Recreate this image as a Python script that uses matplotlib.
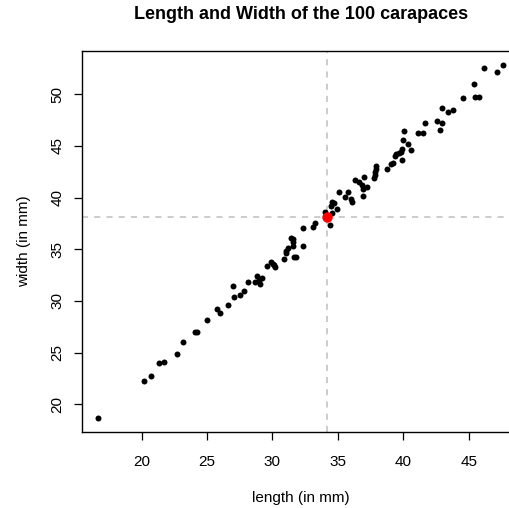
import numpy as np
import matplotlib
matplotlib.use("Agg")
import matplotlib.pyplot as plt

plt.rcParams['font.family'] = ['Liberation Sans', 'DejaVu Sans']

# carapace measurements (mm)
length = [16.71, 20.20, 20.71, 21.35, 21.70, 22.70, 23.18, 24.05, 24.20, 25.00,
          25.76, 26.00, 26.60, 27.00, 27.08, 27.49, 27.80, 28.10,
          28.70, 28.82, 28.95, 29.17, 29.04,
          29.55, 29.91, 30.08, 30.17, 30.10,
          30.90, 31.00, 31.06, 31.20, 31.39, 31.56, 31.60, 31.60, 31.62, 31.78,
          32.31, 32.31, 33.07, 33.27,
          33.98, 34.57, 34.39, 34.96, 34.50, 34.68, 34.55,
          35.11, 35.57, 35.80, 35.97, 36.10,
          36.31, 36.64, 36.82, 36.99, 36.89, 37.20, 36.89,
          37.90, 37.88, 37.85, 37.82, 37.78,
          38.78, 39.03, 39.18, 39.36, 39.44, 39.67, 39.80, 39.87, 39.87,
          40.00, 40.08, 40.38, 40.56, 41.15, 41.53, 41.68,
          42.60, 42.93, 42.78, 42.98, 43.39, 43.77, 44.56, 45.38,
          45.48, 45.76, 46.19, 47.18, 47.59]
width = [18.65, 22.23, 22.74, 24.03, 24.13, 24.84, 26.03, 27.03, 27.03, 28.13,
         29.19, 28.84, 29.61, 31.45, 30.42, 30.55, 30.94, 31.84,
         31.80, 32.42, 32.05, 32.26, 31.65,
         33.42, 33.74, 33.60, 33.32, 33.45,
         34.03, 34.61, 34.85, 35.13, 36.13, 36.00, 35.65, 35.32, 34.23, 34.23,
         35.32, 37.03, 37.19, 37.58,
         38.58, 38.48, 37.35, 38.90, 39.19, 39.45, 39.61,
         40.52, 40.03, 40.52, 39.84, 39.52,
         41.71, 41.55, 41.23, 42.03, 40.84, 41.06, 40.19,
         43.06, 42.77, 42.45, 42.20, 41.87,
         42.74, 43.23, 43.32, 43.97, 44.19, 44.29, 44.45, 44.71, 43.65,
         45.58, 46.45, 45.16, 44.55, 46.23, 46.23, 47.19,
         47.42, 47.19, 46.52, 48.71, 48.23, 48.42, 49.61, 51.00,
         49.71, 49.71, 52.52, 52.13, 52.81]

mean_length = 34.14
mean_width = 38.13

xticks = [20, 25, 30, 35, 40, 45]
yticks = [20, 25, 30, 35, 40, 45, 50]

x = np.array(length)
y = np.array(width)

fig = plt.figure(figsize=(5.10, 5.08), dpi=100)
ax = fig.add_axes([0.1614, 0.149, 0.856, 0.7506])

# R-style 4% padding around the data
xr = x.max() - x.min()
yr = y.max() - y.min()
ax.set_xlim(x.min() - 0.04 * xr, x.max() + 0.04 * xr)
ax.set_ylim(y.min() - 0.04 * yr, y.max() + 0.04 * yr)

ax.axvline(mean_length, color='#bebebe', linestyle=(0, (4, 4)), linewidth=1.1, zorder=1)
ax.axhline(mean_width, color='#bebebe', linestyle=(0, (4, 4)), linewidth=1.1, zorder=1)

ax.plot(x, y, 'o', color='black', markersize=4.3, markeredgewidth=0, zorder=2)
ax.plot([mean_length], [mean_width], 'o', color='red', markersize=7.5,
        markeredgewidth=0, zorder=3)

ax.set_xticks(xticks)
ax.set_yticks(yticks)
ax.tick_params(axis='both', direction='out', length=6, width=0.9, labelsize=11)
ax.tick_params(axis='x', pad=10)
ax.tick_params(axis='y', pad=7, labelrotation=90)
for lab in ax.get_yticklabels():
    lab.set_verticalalignment('center')

for s in ax.spines.values():
    s.set_linewidth(1.0)

ax.set_xlabel('length (in mm)', fontsize=11, labelpad=16)
ax.set_ylabel('width (in mm)', fontsize=11, labelpad=14)
ax.set_title('Length and Width of the 100 carapaces', fontsize=13,
             fontweight='bold', pad=23)

fig.savefig('out.png', dpi=100)
